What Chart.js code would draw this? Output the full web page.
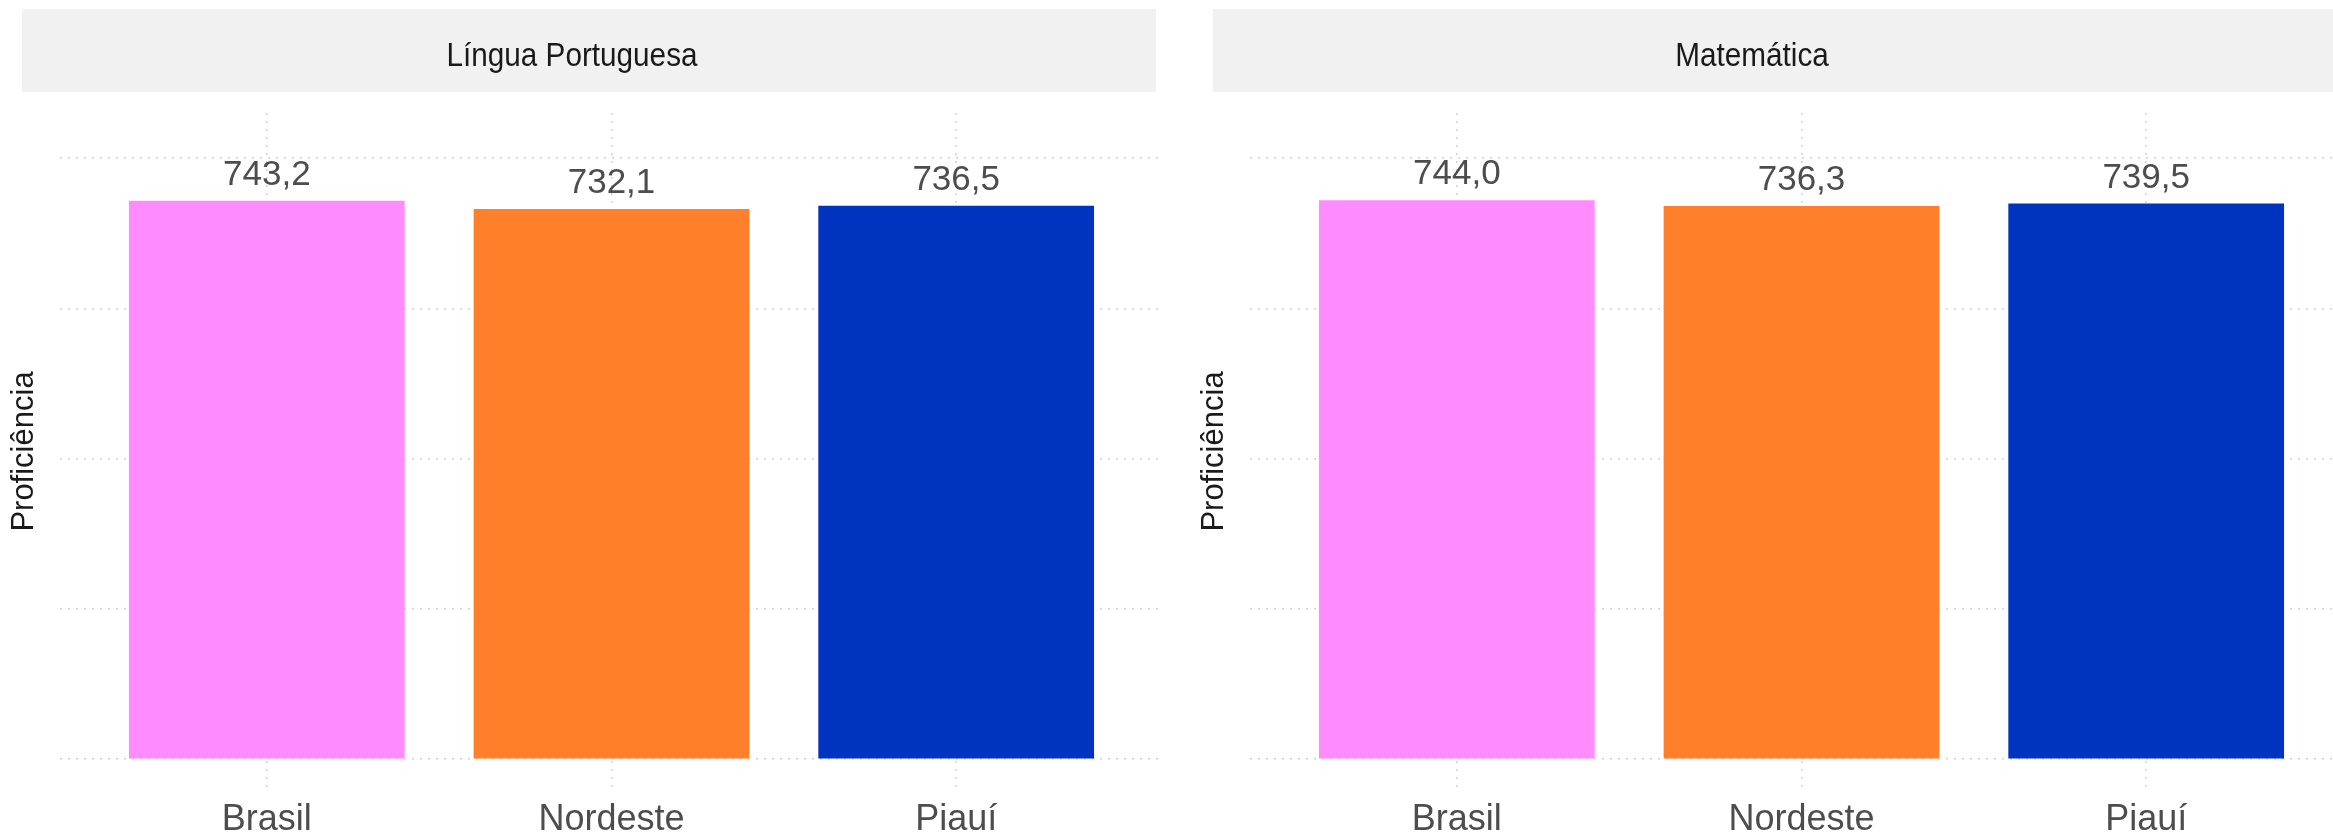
<!DOCTYPE html>
<html lang="pt-BR">
<head>
<meta charset="utf-8">
<title>Proficiência — Língua Portuguesa e Matemática</title>
<script src="https://cdn.jsdelivr.net/npm/chart.js@4/dist/chart.umd.min.js"></script>
<style>
  html, body { margin: 0; padding: 0; background: #fff; }
  #pagina { position: relative; width: 2333px; height: 836px; overflow: hidden; }
  canvas { position: absolute; top: 0; }
  #painel-lp  { left: 0; }
  #painel-mat { left: 1190px; }
</style>
</head>
<body>
<div id="pagina">
  <canvas id="painel-lp" width="1165" height="836"></canvas>
  <canvas id="painel-mat" width="1165" height="836"></canvas>
</div>

<script>
// --- Dados ---
const categorias = ['Brasil', 'Nordeste', 'Piauí'];
const lingua     = [743.2, 732.1, 736.5];
const matematica = [744.0, 736.3, 739.5];
const cores      = ['#FF8CFF', '#FF7F2A', '#0033C0'];
const marcasY    = [0, 200, 400, 600, 800];
const titulos    = ['Língua Portuguesa', 'Matemática'];
const tituloEixoY = 'Proficiência';

const FONTE = "'Liberation Sans', Arial, Helvetica, sans-serif";
const fmt = v => v.toFixed(1).replace('.', ',');

// --- Faixa cinza com o título do painel (estilo facet) ---
const faixaPlugin = {
  id: 'faixa',
  beforeDraw(chart, args, o) {
    const ctx = chart.ctx;
    ctx.save();
    ctx.fillStyle = '#f1f1f1';
    ctx.fillRect(o.x0, 9, o.x1 - o.x0, 83);
    ctx.translate(o.tx, 66);
    ctx.scale(0.9, 1);
    ctx.fillStyle = '#1a1a1a';
    ctx.font = `33px ${FONTE}`;
    ctx.textAlign = 'center';
    ctx.textBaseline = 'alphabetic';
    ctx.fillText(o.texto, 0, 0);
    ctx.restore();
  }
};

// --- Rótulos de valor acima das barras ---
const rotulosPlugin = {
  id: 'rotulos',
  afterDatasetsDraw(chart) {
    const ctx = chart.ctx;
    const meta = chart.getDatasetMeta(0);
    const dados = chart.data.datasets[0].data;
    ctx.save();
    ctx.fillStyle = '#4d4d4d';
    ctx.font = `35px ${FONTE}`;
    ctx.textAlign = 'center';
    ctx.textBaseline = 'alphabetic';
    meta.data.forEach((bar, i) => {
      ctx.fillText(fmt(dados[i].y), bar.x, bar.y - 16);
    });
    ctx.restore();
  }
};

function criarPainel(id, valores, titulo, faixa) {
  return new Chart(document.getElementById(id), {
    type: 'bar',
    data: {
      datasets: [{
        data: valores.map((v, i) => ({ x: i + 1, y: v })),
        backgroundColor: cores,
        borderWidth: 0,
        barPercentage: 0.8,
        categoryPercentage: 1
      }]
    },
    plugins: [faixaPlugin, rotulosPlugin],
    options: {
      responsive: false,
      animation: false,
      layout: { padding: { top: 113, left: 0, right: 2, bottom: 0 } },
      plugins: {
        legend: { display: false },
        tooltip: { enabled: false },
        faixa: { texto: titulo, ...faixa }
      },
      scales: {
        x: {
          type: 'linear',
          min: 0.4, max: 3.6,
          offset: false,
          afterBuildTicks: s => { s.ticks = categorias.map((c, i) => ({ value: i + 1 })); },
          afterFit: s => { s.height = 46; },
          ticks: {
            autoSkip: false,
            maxRotation: 0,
            padding: 8,
            color: '#4d4d4d',
            font: { family: FONTE, size: 36 },
            callback: v => categorias[v - 1] ?? ''
          },
          grid: { offset: false, color: '#d2d2d2', lineWidth: 1.5, drawTicks: false },
          border: { display: false, dash: [2, 6] }
        },
        y: {
          min: -41, max: 860,
          afterBuildTicks: s => { s.ticks = marcasY.map(v => ({ value: v })); },
          afterFit: s => { s.width = 60; },
          ticks: { display: false },
          grid: { color: '#d2d2d2', lineWidth: 1.5, drawTicks: false },
          border: { display: false, dash: [2, 6] },
          title: {
            display: true,
            text: tituloEixoY,
            color: '#1a1a1a',
            font: { family: FONTE, size: 31 },
            padding: { top: 6, bottom: 0 }
          }
        }
      }
    }
  });
}

// --- Init ---
criarPainel('painel-lp',  lingua,     titulos[0], { x0: 22, x1: 1156, tx: 572 });
criarPainel('painel-mat', matematica, titulos[1], { x0: 23, x1: 1165, tx: 562 });
</script>
</body>
</html>
